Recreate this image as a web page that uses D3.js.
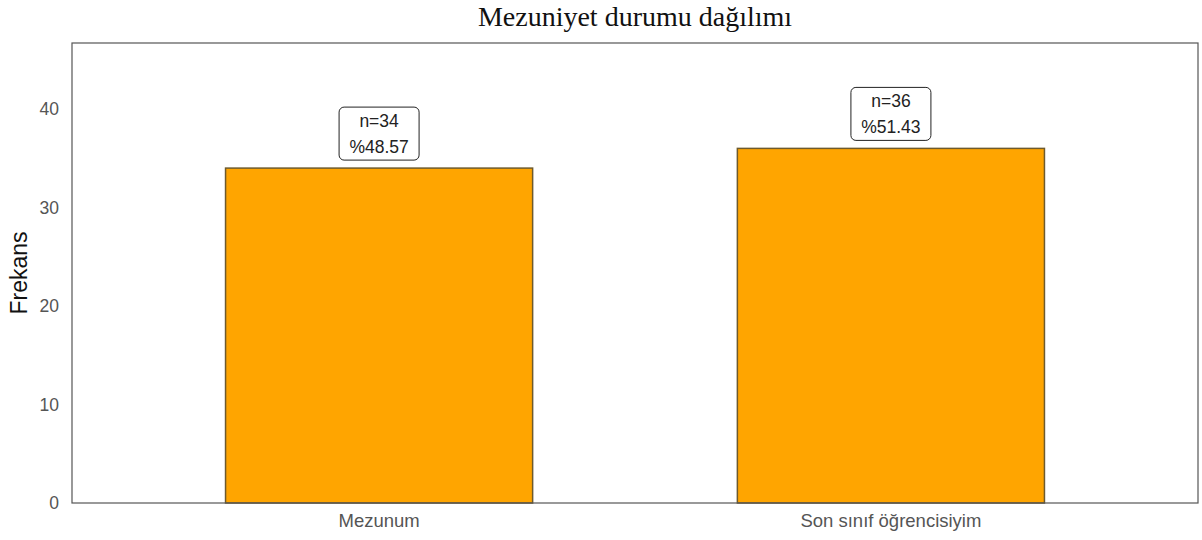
<!DOCTYPE html>
<html>
<head>
<meta charset="utf-8">
<script src="https://cdn.jsdelivr.net/npm/d3@7"></script>
<style>
  body { margin: 0; background: #fff; }
  svg { display: block; }
</style>
</head>
<body>
<div id="chart"></div>
<script>
  var categories = [ "Mezunum", "Son sınıf öğrencisiyim" ];
  var counts = [ 34, 36 ];
  var percents = [ "48.57", "51.43" ];
  var yTicks = [ 0, 10, 20, 30, 40 ];

  var width = 1202, height = 540;
  var panel = { left: 72, right: 1198, top: 43, bottom: 503 };
  var sans = "Arial, 'Liberation Sans', sans-serif";

  var svg = d3.select( "#chart" ).append( "svg" )
    .attr( "width", width )
    .attr( "height", height );

  var x = d3.scaleBand()
    .domain( categories )
    .range( [ panel.left, panel.right ] )
    .paddingInner( 0.4 )
    .paddingOuter( 0.3 );

  var y = d3.scaleLinear()
    .domain( [ 0, 46.7 ] )
    .range( [ panel.bottom, panel.top ] );

  // bars
  svg.append( "g" ).selectAll( "rect" )
    .data( categories )
    .enter().append( "rect" )
    .attr( "x", function( d ) { return x( d ); } )
    .attr( "y", function( d, i ) { return y( counts[ i ] ); } )
    .attr( "width", x.bandwidth() )
    .attr( "height", function( d, i ) { return y( 0 ) - y( counts[ i ] ); } )
    .attr( "fill", "#ffa500" )
    .attr( "stroke", "#6e5a2c" )
    .attr( "stroke-width", 1.5 );

  // panel border
  svg.append( "rect" )
    .attr( "x", panel.left )
    .attr( "y", panel.top )
    .attr( "width", panel.right - panel.left )
    .attr( "height", panel.bottom - panel.top )
    .attr( "fill", "none" )
    .attr( "stroke", "#555" )
    .attr( "stroke-width", 1.2 );

  // axes
  var yAxis = svg.append( "g" )
    .attr( "transform", "translate(" + panel.left + ",0)" )
    .call( d3.axisLeft( y ).tickValues( yTicks ).tickSize( 0 ).tickPadding( 13 ) );
  yAxis.select( ".domain" ).remove();
  yAxis.selectAll( "text" )
    .attr( "font-family", sans )
    .attr( "font-size", 17.5 )
    .attr( "fill", "#555" );

  var xAxis = svg.append( "g" )
    .attr( "transform", "translate(0," + panel.bottom + ")" )
    .call( d3.axisBottom( x ).tickSize( 0 ).tickPadding( 11 ) );
  xAxis.select( ".domain" ).remove();
  xAxis.selectAll( "text" )
    .attr( "font-family", sans )
    .attr( "font-size", 18.5 )
    .attr( "fill", "#555" );

  // y title
  svg.append( "text" )
    .attr( "transform", "translate(27," + ( ( panel.top + panel.bottom ) / 2 ) + ") rotate(-90)" )
    .attr( "text-anchor", "middle" )
    .attr( "font-family", sans )
    .attr( "font-size", 23 )
    .attr( "fill", "#111" )
    .text( "Frekans" );

  // title
  svg.append( "text" )
    .attr( "x", ( panel.left + panel.right ) / 2 )
    .attr( "y", 26 )
    .attr( "text-anchor", "middle" )
    .attr( "font-family", "'Liberation Serif', 'Times New Roman', serif" )
    .attr( "font-size", 28 )
    .attr( "fill", "#111" )
    .text( "Mezuniyet durumu dağılımı" );

  // value labels
  var boxW = 80, boxH = 53;
  var labels = svg.append( "g" ).selectAll( "g" )
    .data( categories )
    .enter().append( "g" )
    .attr( "transform", function( d, i ) {
      var cx = x( d ) + x.bandwidth() / 2;
      var by = y( counts[ i ] ) - 8;
      return "translate(" + cx + "," + by + ")";
    } );

  labels.append( "rect" )
    .attr( "x", -boxW / 2 )
    .attr( "y", -boxH )
    .attr( "width", boxW )
    .attr( "height", boxH )
    .attr( "rx", 5 )
    .attr( "fill", "#fff" )
    .attr( "stroke", "#222" )
    .attr( "stroke-width", 1 );

  labels.append( "text" )
    .attr( "y", -boxH + 20 )
    .attr( "text-anchor", "middle" )
    .attr( "font-family", sans )
    .attr( "font-size", 17.5 )
    .attr( "fill", "#222" )
    .text( function( d, i ) { return "n=" + counts[ i ]; } );

  labels.append( "text" )
    .attr( "y", -boxH + 46 )
    .attr( "text-anchor", "middle" )
    .attr( "font-family", sans )
    .attr( "font-size", 17.5 )
    .attr( "fill", "#222" )
    .text( function( d, i ) { return "%" + percents[ i ]; } );
</script>
</body>
</html>
